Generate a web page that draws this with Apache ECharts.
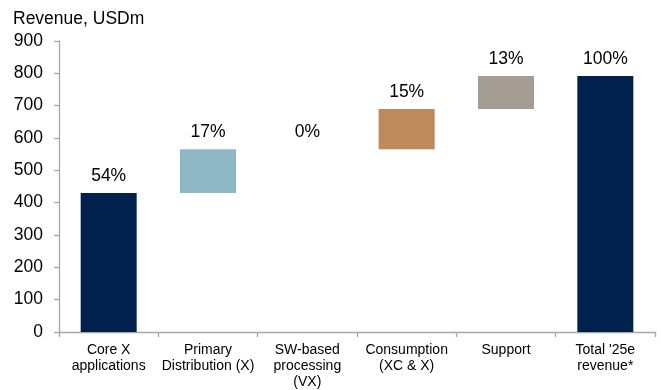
<!DOCTYPE html>
<html>
<head>
<meta charset="utf-8">
<script src="https://cdn.jsdelivr.net/npm/echarts@6/dist/echarts.min.js"></script>
<style>
  html, body { margin: 0; padding: 0; background: #fff; }
  #chart { width: 661px; height: 390px; }
</style>
</head>
<body>
<div id="chart"></div>
<script>
// Revenue bridge by segment, USDm
const categories = [
  'Core X\napplications',
  'Primary\nDistribution (X)',
  'SW-based\nprocessing\n(VX)',
  'Consumption\n(XC & X)',
  'Support',
  "Total '25e\nrevenue*"
];
const segmentValues = [430, 135, 0, 125, 102, 792];
const shareLabels = ['54%', '17%', '0%', '15%', '13%', '100%'];
const barColors = ['#00214E', '#8FB8C6', '#8FB8C6', '#BD8A5E', '#A59C93', '#00214E'];
const yTicks = { min: 0, max: 900, interval: 100 };

// Invisible offsets: running total before each step; the last bar is a total from zero
const offsets = [];
let running = 0;
segmentValues.forEach((v, i) => {
  if (i === segmentValues.length - 1) { offsets.push(0); }
  else { offsets.push(running); running += v; }
});

const FONT = 'Liberation Sans, Arial, sans-serif';
const AXIS_GREY = '#A6A6A6';

const chart = echarts.init(document.getElementById('chart'), null, { renderer: 'canvas' });
chart.setOption({
  animation: false,
  textStyle: { fontFamily: FONT },
  title: {
    text: 'Revenue, USDm',
    left: 8, top: 5,
    textStyle: { fontFamily: FONT, fontSize: 17.5, fontWeight: 'normal', color: '#000' }
  },
  grid: { left: 59, right: 6, top: 41, bottom: 57.5, containLabel: false },
  xAxis: {
    type: 'category',
    data: categories,
    axisLine: { show: true, lineStyle: { color: AXIS_GREY, width: 1.3 } },
    axisTick: { show: true, length: 5, lineStyle: { color: AXIS_GREY, width: 1.3 } },
    axisLabel: {
      interval: 0, margin: 10, fontSize: 14, lineHeight: 16, color: '#000', fontFamily: FONT
    },
    splitLine: { show: false }
  },
  yAxis: {
    type: 'value',
    min: yTicks.min, max: yTicks.max, interval: yTicks.interval,
    axisLine: { show: true, lineStyle: { color: AXIS_GREY, width: 1.3 } },
    axisTick: { show: true, length: 5, lineStyle: { color: AXIS_GREY, width: 1.3 } },
    axisLabel: { margin: 16, fontSize: 17.5, color: '#000', fontFamily: FONT },
    splitLine: { show: false }
  },
  series: [
    {
      type: 'bar',
      stack: 'bridge',
      data: offsets,
      barWidth: 56,
      itemStyle: { color: 'rgba(0,0,0,0)' },
      silent: true
    },
    {
      type: 'bar',
      stack: 'bridge',
      barWidth: 56,
      data: segmentValues.map((v, i) => ({ value: v, itemStyle: { color: barColors[i] } })),
      label: {
        show: true,
        position: 'top',
        distance: 8,
        fontSize: 17.5,
        color: '#000',
        fontFamily: FONT,
        formatter: p => shareLabels[p.dataIndex]
      }
    }
  ]
});
</script>
</body>
</html>
